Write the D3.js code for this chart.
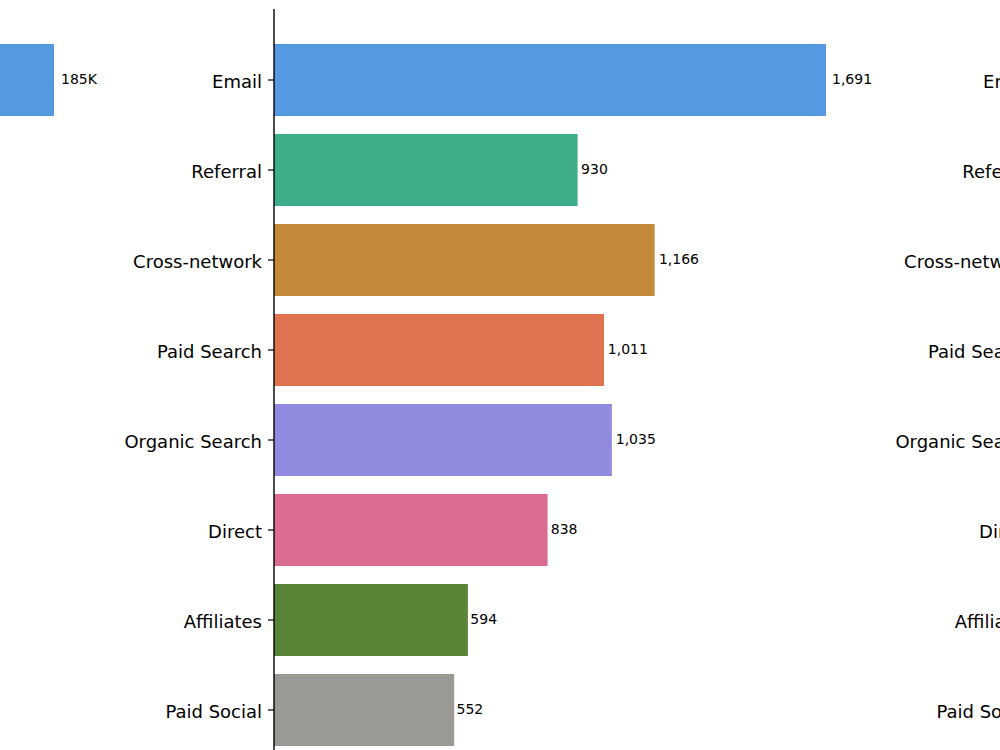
<!DOCTYPE html>
<html>
<head>
<meta charset="utf-8">
<script src="https://cdn.jsdelivr.net/npm/d3@7"></script>
<style>
  body { margin: 0; background: #fff; }
  svg { display: block; font-family: "DejaVu Sans", sans-serif; }
</style>
</head>
<body>
<script>
// channels, top to bottom
var channels = ["Email", "Referral", "Cross-network", "Paid Search", "Organic Search", "Direct", "Affiliates", "Paid Social"];
var conversions = [1691, 930, 1166, 1011, 1035, 838, 594, 552];
var colors = ["#5599e0", "#3ead8a", "#c4893a", "#df7350", "#918be0", "#db6b8f", "#5a8436", "#9a9994"];

// left panel (mostly out of frame), only the Email bar reaches into view
var leftChannels = ["Email"];
var leftValues = [185000];
var leftLabels = ["185K"];

var W = 1000, H = 750;

var svg = d3.select("body").append("svg")
    .attr("width", W)
    .attr("height", H);

var y = d3.scaleBand()
    .domain(channels)
    .range([35, 755])
    .paddingInner(0.2)
    .paddingOuter(0.1);

var colorOf = d3.scaleOrdinal().domain(channels).range(colors);

var rows = channels.map(function(c, i) { return {channel: c, value: conversions[i]}; });

//---- middle panel
var x0 = 274;
var x = d3.scaleLinear()
    .domain([0, 1691])
    .range([x0, 826]);

var mid = svg.append("g");

mid.selectAll(".bar")
    .data(rows)
  .enter().append("rect")
    .attr("class", "bar")
    .attr("x", x(0))
    .attr("y", function(d) { return y(d.channel); })
    .attr("width", function(d) { return x(d.value) - x(0); })
    .attr("height", y.bandwidth())
    .attr("fill", function(d) { return colorOf(d.channel); });

mid.selectAll(".val")
    .data(rows)
  .enter().append("text")
    .attr("class", "val")
    .attr("x", function(d) { return x(d.value * 1.01) + 0.5; })
    .attr("y", function(d) { return y(d.channel) + y.bandwidth() / 2; })
    .attr("dy", "0.3em")
    .attr("font-size", 14)
    .text(function(d) { return d3.format(",")(d.value); });

var yAxis = d3.axisLeft(y).tickSize(6).tickPadding(6);

var ax = svg.append("g")
    .attr("transform", "translate(" + x0 + ",0)")
    .call(yAxis);
ax.select(".domain").remove();
ax.append("line")
    .attr("x1", 0).attr("x2", 0)
    .attr("y1", 9).attr("y2", H + 20)
    .attr("stroke", "#000")
    .attr("stroke-width", 1.4);
ax.selectAll(".tick line").attr("stroke", "#000").attr("stroke-width", 1.2);
ax.selectAll(".tick text")
    .attr("font-size", 18)
    .attr("dy", "0.42em")
    .attr("fill", "#000")
    .style("font-family", "DejaVu Sans, sans-serif");

//---- left panel, axis sits out of frame
var leftRows = leftChannels.map(function(c, i) { return {channel: c, value: leftValues[i], label: leftLabels[i]}; });
var xl = d3.scaleLinear()
    .domain([0, 185000])
    .range([-500, 54]);

svg.selectAll(".lbar")
    .data(leftRows)
  .enter().append("rect")
    .attr("class", "lbar")
    .attr("x", xl(0))
    .attr("y", function(d) { return y(d.channel); })
    .attr("width", function(d) { return xl(d.value) - xl(0); })
    .attr("height", y.bandwidth())
    .attr("fill", function(d) { return colorOf(d.channel); });

svg.selectAll(".lval")
    .data(leftRows)
  .enter().append("text")
    .attr("class", "lval")
    .attr("x", function(d) { return xl(d.value) + 7; })
    .attr("y", function(d) { return y(d.channel) + y.bandwidth() / 2; })
    .attr("dy", "0.3em")
    .attr("font-size", 14)
    .text(function(d) { return d.label; });

//---- right panel, only its tick labels reach into view
var axR = svg.append("g")
    .attr("transform", "translate(1045,0)")
    .call(d3.axisLeft(y).tickSize(6).tickPadding(6));
axR.select(".domain").remove();
axR.selectAll(".tick text")
    .attr("font-size", 18)
    .attr("dy", "0.42em")
    .attr("fill", "#000")
    .style("font-family", "DejaVu Sans, sans-serif");
</script>
</body>
</html>
